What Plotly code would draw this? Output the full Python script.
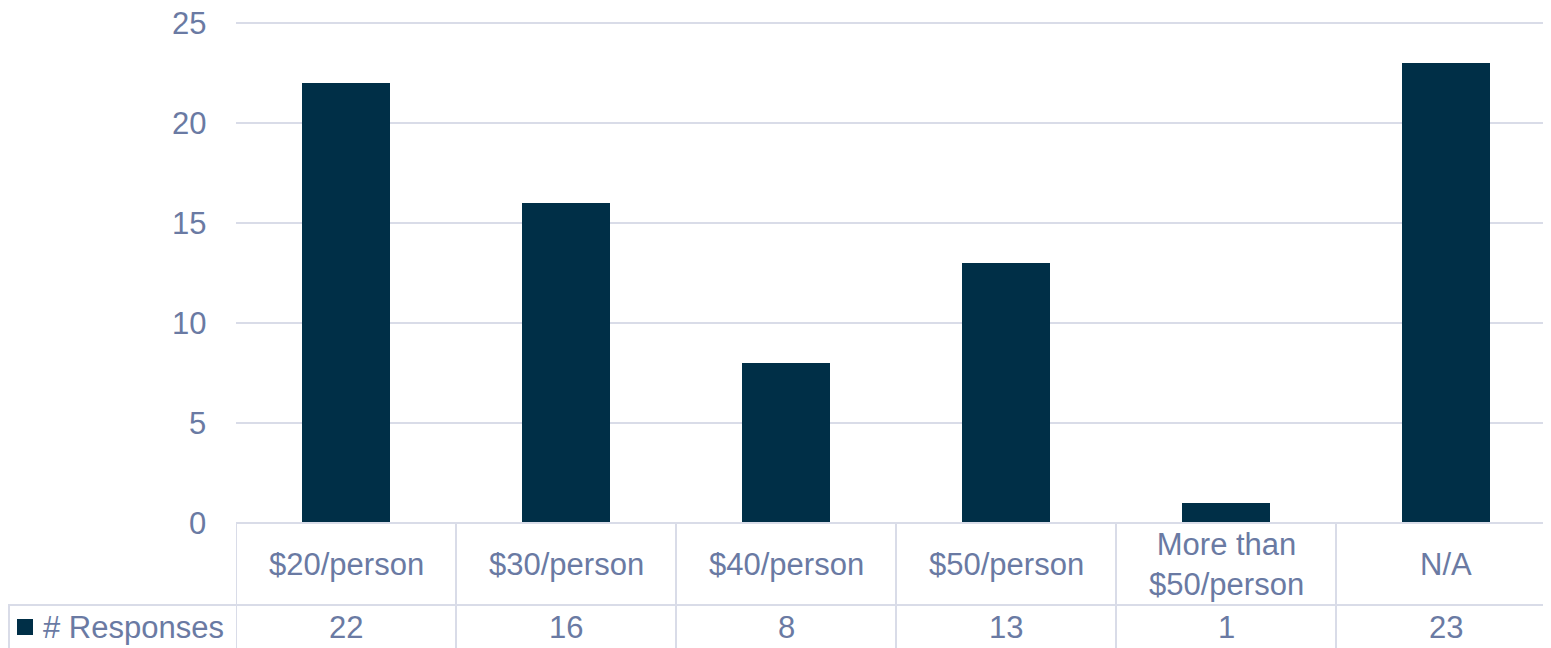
import plotly.graph_objects as go

categories = ["$20/person", "$30/person", "$40/person", "$50/person", "More than<br>$50/person", "N/A"]
responses = [22, 16, 8, 13, 1, 23]
series_name = "# Responses"
y_ticks = [0, 5, 10, 15, 20, 25]

BAR = "#002F47"
TXT = "#6A7AA3"
GRID = "#D9DCE8"
FONT = "Liberation Sans, Arial, sans-serif"
FS = 31

# the page body has an 8px margin; figure coordinates = screen - 8
OFF = 8
W, H = 1551 - OFF, 648 - OFF
Y_TOP = 25.1
PX_PER_UNIT = 20.0
L = 236 - OFF
B = H - (523 - OFF)
T = (523 - OFF) - int(round(Y_TOP * PX_PER_UNIT))
R = 0
PW = W - L - R
PH = H - T - B

def px_x(p):
    return (p - OFF - L) / PW

def px_y(p):
    return (H - B - (p - OFF)) / PH

n = len(categories)
xs = list(range(n))
cat_w = 220.0
x_max = -0.5 + PW / cat_w

fig = go.Figure()
fig.add_trace(go.Bar(x=xs, y=responses, marker=dict(color=BAR, line=dict(width=0)),
                     width=0.4, name=series_name, showlegend=False, hoverinfo="y"))

shapes = []
ann = []
line = dict(color=GRID, width=2)
bottom = px_y(660)
shapes.append(dict(type="line", xref="paper", yref="paper", x0=0, x1=1.05, y0=0, y1=0, line=line, layer="above"))
shapes.append(dict(type="line", xref="paper", yref="paper", x0=px_x(8), x1=1.05, y0=px_y(605), y1=px_y(605), line=line))
for i in range(n + 1):
    shapes.append(dict(type="line", xref="x", yref="paper", x0=i - 0.5, x1=i - 0.5,
                       y0=0, y1=bottom, line=line))
shapes.append(dict(type="line", xref="paper", yref="paper", x0=px_x(9), x1=px_x(9),
                   y0=px_y(605), y1=bottom, line=line))
shapes.append(dict(type="rect", xref="paper", yref="paper", x0=px_x(17), x1=px_x(33),
                   y0=px_y(635), y1=px_y(619), fillcolor=BAR, line=dict(width=0)))

for t in y_ticks:
    ann.append(dict(x=px_x(208), xref="paper", y=t, yref="y", text=str(t), showarrow=False,
                    font=dict(family=FONT, size=FS, color=TXT), xanchor="right", yanchor="middle"))

for i, (c, v) in enumerate(zip(categories, responses)):
    ann.append(dict(x=i, xref="x", y=px_y(564), yref="paper", text=c, showarrow=False,
                    font=dict(family=FONT, size=FS, color=TXT), align="center",
                    xanchor="center", yanchor="middle"))
    ann.append(dict(x=i, xref="x", y=px_y(627), yref="paper", text=str(v), showarrow=False,
                    font=dict(family=FONT, size=FS, color=TXT), xanchor="center", yanchor="middle"))
ann.append(dict(x=px_x(41), xref="paper", y=px_y(627), yref="paper", text=series_name, showarrow=False,
                font=dict(family=FONT, size=FS, color=TXT), xanchor="left", yanchor="middle"))

fig.update_layout(
    width=W, height=H,
    margin=dict(l=L, r=R, t=T, b=B, pad=0),
    paper_bgcolor="white", plot_bgcolor="white",
    font=dict(family=FONT, size=FS, color=TXT),
    xaxis=dict(range=[-0.5, x_max], showticklabels=False, showgrid=False, zeroline=False,
               showline=False, ticks="", fixedrange=True),
    yaxis=dict(range=[0, Y_TOP], tickvals=y_ticks, showgrid=True, gridcolor=GRID, gridwidth=2,
               zeroline=False, showline=False, ticks="", showticklabels=False, automargin=False),
    shapes=shapes, annotations=ann, bargap=0.6,
)

fig.write_html("out.html")
